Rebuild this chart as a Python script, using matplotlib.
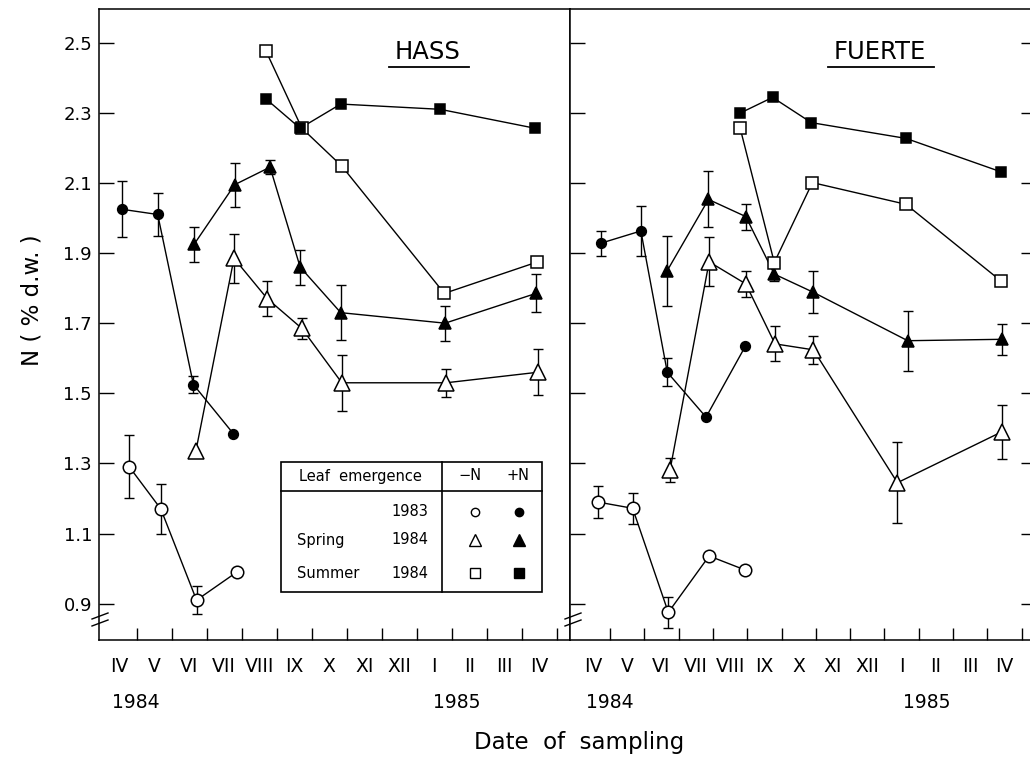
import matplotlib
matplotlib.use("Agg")
import matplotlib.pyplot as plt
from matplotlib.lines import Line2D
from matplotlib.patches import Rectangle

W, H = 1030, 765

# ---------------- data (x = months since 1 April 1984) ----------------
month_labels = ["IV", "V", "VI", "VII", "VIII", "IX", "X", "XI", "XII", "I", "II", "III", "IV"]
yticks = [0.9, 1.1, 1.3, 1.5, 1.7, 1.9, 2.1, 2.3, 2.5]
ytick_labels = ["0.9", "1.1", "1.3", "1.5", "1.7", "1.9", "2.1", "2.3", "2.5"]

# HASS
h_c83_minus_x = [0.79, 1.69, 2.71, 3.86]
h_c83_minus_y = [1.29, 1.17, 0.91, 0.99]
h_c83_minus_e = [0.09, 0.07, 0.04, 0.0]
h_c83_plus_x = [0.57, 1.60, 2.62, 3.76]
h_c83_plus_y = [2.025, 2.01, 1.525, 1.385]
h_c83_plus_e = [0.08, 0.06, 0.025, 0.0]
h_sp_minus_x = [2.69, 3.78, 4.73, 5.72, 6.86, 9.84, 12.46]
h_sp_minus_y = [1.335, 1.885, 1.77, 1.685, 1.53, 1.53, 1.56]
h_sp_minus_e = [0.0, 0.07, 0.05, 0.03, 0.08, 0.04, 0.065]
h_sp_plus_x = [2.64, 3.80, 4.81, 5.67, 6.83, 9.81, 12.41]
h_sp_plus_y = [1.925, 2.095, 2.145, 1.86, 1.73, 1.70, 1.785]
h_sp_plus_e = [0.05, 0.063, 0.02, 0.05, 0.078, 0.05, 0.054]
h_su_minus_x = [4.69, 5.72, 6.86, 9.79, 12.43]
h_su_minus_y = [2.477, 2.256, 2.148, 1.785, 1.874]
h_su_plus_x = [4.69, 5.67, 6.83, 9.67, 12.38]
h_su_plus_y = [2.34, 2.256, 2.325, 2.31, 2.256]

# FUERTE
f_c83_minus_x = [0.64, 1.66, 2.70, 3.89, 4.94]
f_c83_minus_y = [1.19, 1.172, 0.875, 1.036, 0.996]
f_c83_minus_e = [0.046, 0.045, 0.045, 0.0, 0.0]
f_c83_plus_x = [0.73, 1.90, 2.67, 3.80, 4.95]
f_c83_plus_y = [1.928, 1.963, 1.56, 1.432, 1.635]
f_c83_plus_e = [0.035, 0.07, 0.04, 0.0, 0.0]
f_sp_minus_x = [2.75, 3.89, 4.96, 5.81, 6.93, 9.38, 12.42]
f_sp_minus_y = [1.281, 1.875, 1.812, 1.641, 1.624, 1.245, 1.39]
f_sp_minus_e = [0.035, 0.07, 0.037, 0.05, 0.04, 0.116, 0.078]
f_sp_plus_x = [2.67, 3.87, 4.96, 5.79, 6.93, 9.68, 12.42]
f_sp_plus_y = [1.85, 2.053, 2.004, 1.84, 1.788, 1.65, 1.654]
f_sp_plus_e = [0.1, 0.08, 0.037, 0.02, 0.06, 0.085, 0.045]
f_su_minus_x = [4.79, 5.79, 6.90, 9.63, 12.39]
f_su_minus_y = [2.258, 1.873, 2.101, 2.039, 1.821]
f_su_plus_x = [4.79, 5.74, 6.87, 9.63, 12.39]
f_su_plus_y = [2.299, 2.344, 2.272, 2.227, 2.132]

# ---------------- figure ----------------
plt.rcParams['font.family'] = ['DejaVu Sans']
fig = plt.figure(figsize=(W / 100, H / 100), dpi=100)


def fx(px):
    return px / W


def fy(py):
    return 1 - py / H


ax_bottom_px, ax_top_px = 640, 9
ylim = (2.5 - (ax_bottom_px - 42.7) / 350.6, 2.5 + (42.7 - ax_top_px) / 350.6)

axL = fig.add_axes([fx(99), fy(ax_bottom_px), (570 - 99) / W, (ax_bottom_px - ax_top_px) / H])
axR = fig.add_axes([fx(570), fy(ax_bottom_px), (1036 - 570) / W, (ax_bottom_px - ax_top_px) / H])
axL.set_xlim((99 - 101.7) / 35.0, (570 - 101.7) / 35.0)
axR.set_xlim((570 - 575.7) / 34.3, (1036 - 575.7) / 34.3)

lw = 1.0
for ax in (axL, axR):
    ax.set_ylim(*ylim)
    for s in ax.spines.values():
        s.set_linewidth(1.1)
    ax.set_xticks(range(1, 14))
    ax.set_xticks([i + 0.5 for i in range(13)], minor=True)
    ax.set_xticklabels([])
    ax.set_xticklabels(month_labels, minor=True, fontsize=13.5)
    ax.tick_params(axis='x', which='major', direction='in', length=8.5, width=1.0)
    ax.tick_params(axis='x', which='minor', length=0, pad=12)
    ax.set_yticks(yticks)
    ax.tick_params(axis='y', direction='in', length=10.5, width=1.0)

axL.set_yticklabels(ytick_labels, fontsize=13)
axL.tick_params(axis='y', pad=5)
axR.set_yticklabels([])
axR.tick_params(axis='y', left=True, right=True)


def draw(ax, x, y, e, marker, filled, ms):
    if e is not None:
        xe = [a for a, b in zip(x, e) if b > 0]
        ye = [a for a, b in zip(y, e) if b > 0]
        ee = [b for b in e if b > 0]
        ax.errorbar(xe, ye, yerr=ee, fmt='none', ecolor='k', elinewidth=lw,
                    capsize=3.6, capthick=lw, zorder=2)
    ax.plot(x, y, color='k', lw=lw, zorder=3)
    ax.plot(x, y, ls='none', marker=marker, ms=ms, mec='k', mew=1.1,
            mfc='k' if filled else 'white', zorder=4)


def draw_panel(ax, d):
    draw(ax, d[0], d[1], d[2], 'o', False, 9)
    draw(ax, d[3], d[4], d[5], 'o', True, 7)
    draw(ax, d[6], d[7], d[8], '^', False, 11)
    draw(ax, d[9], d[10], d[11], '^', True, 9)
    draw(ax, d[12], d[13], None, 's', False, 8)
    draw(ax, d[14], d[15], None, 's', True, 7.5)


draw_panel(axL, [h_c83_minus_x, h_c83_minus_y, h_c83_minus_e,
                 h_c83_plus_x, h_c83_plus_y, h_c83_plus_e,
                 h_sp_minus_x, h_sp_minus_y, h_sp_minus_e,
                 h_sp_plus_x, h_sp_plus_y, h_sp_plus_e,
                 h_su_minus_x, h_su_minus_y, h_su_plus_x, h_su_plus_y])
draw_panel(axR, [f_c83_minus_x, f_c83_minus_y, f_c83_minus_e,
                 f_c83_plus_x, f_c83_plus_y, f_c83_plus_e,
                 f_sp_minus_x, f_sp_minus_y, f_sp_minus_e,
                 f_sp_plus_x, f_sp_plus_y, f_sp_plus_e,
                 f_su_minus_x, f_su_minus_y, f_su_plus_x, f_su_plus_y])


def fig_line(x0, y0, x1, y1, lw=1.0):
    fig.add_artist(Line2D([fx(x0), fx(x1)], [fy(y0), fy(y1)], color='k', lw=lw,
                          transform=fig.transFigure))


def fig_text(x, y, s, **kw):
    fig.text(fx(x), fy(y), s, **kw)


# titles with underline
fig_text(428, 52, "HASS", fontsize=17.5, ha='center', va='center')
fig_line(389, 67, 469, 67, 1.3)
fig_text(880, 52, "FUERTE", fontsize=17.5, ha='center', va='center')
fig_line(828, 67, 934, 67, 1.3)

# axis break marks
for xb in (100, 573):
    fig_line(xb - 8, 619, xb + 8, 613, 1.0)
    fig_line(xb - 8, 626, xb + 8, 620, 1.0)

# years and axis labels
fig_text(136, 703, "1984", fontsize=13.5, ha='center', va='center')
fig_text(457, 703, "1985", fontsize=13.5, ha='center', va='center')
fig_text(610, 703, "1984", fontsize=13.5, ha='center', va='center')
fig_text(927, 703, "1985", fontsize=13.5, ha='center', va='center')
fig_text(579, 742, "Date  of  sampling", fontsize=16.5, ha='center', va='center')
fig_text(32, 300, "N ( % d.w. )", fontsize=16.5, ha='center', va='center', rotation=90)

# legend table
fig.add_artist(Rectangle((fx(281), fy(592)), (542 - 281) / W, (592 - 462) / H,
                         fill=True, fc='white', ec='k', lw=1.2,
                         transform=fig.transFigure, zorder=5))
fig.add_artist(Line2D([fx(281), fx(542)], [fy(491), fy(491)], color='k', lw=1.2,
                      transform=fig.transFigure, zorder=6))
fig.add_artist(Line2D([fx(442), fx(442)], [fy(462), fy(592)], color='k', lw=1.2,
                      transform=fig.transFigure, zorder=6))
tkw = dict(fontsize=10.5, va='center', zorder=7)
fig_text(360, 476, "Leaf  emergence", ha='center', **tkw)
fig_text(470, 476, "\u2212N", ha='center', **tkw)
fig_text(518, 476, "+N", ha='center', **tkw)
fig_text(428, 512, "1983", ha='right', **tkw)
fig_text(297, 540, "Spring", ha='left', **tkw)
fig_text(428, 540, "1984", ha='right', **tkw)
fig_text(297, 573, "Summer", ha='left', **tkw)
fig_text(428, 573, "1984", ha='right', **tkw)
for yy, mk, ms in ((512, 'o', 6), (540, '^', 8), (573, 's', 6.5)):
    for xx, filled in ((475, False), (519, True)):
        fig.add_artist(Line2D([fx(xx)], [fy(yy)], ls='none', marker=mk, ms=ms,
                              mec='k', mew=1.0, mfc='k' if filled else 'white',
                              transform=fig.transFigure, zorder=7))

fig.savefig("out.png", dpi=100)
